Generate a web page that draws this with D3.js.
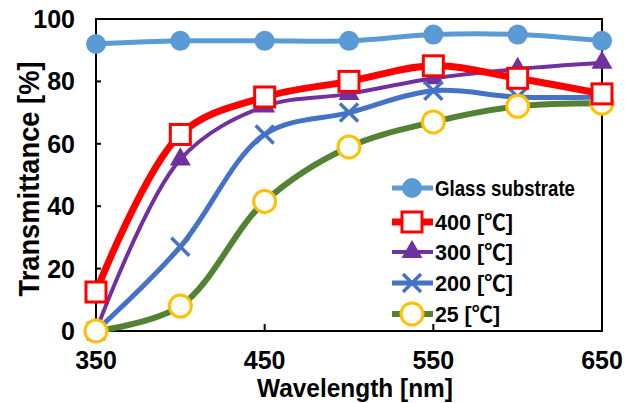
<!DOCTYPE html>
<html>
<head>
<meta charset="utf-8">
<script src="https://cdn.jsdelivr.net/npm/d3@7"></script>
<style>
  body { margin: 0; background: #fff; }
  text { font-family: "Liberation Sans", Arial, "DejaVu Sans", "Noto Sans CJK JP", sans-serif; font-weight: bold; fill: #000; }
  .cjk { font-family: "Noto Sans CJK JP", sans-serif; }
</style>
</head>
<body>
<svg id="chart" width="636" height="403"></svg>
<script>
// data
const wavelengths = [350, 400, 450, 500, 550, 600, 650];
const glassSubstrate = [92, 93, 93, 93, 95, 95, 93];
const temp400 = [12.5, 63, 75, 80, 85, 81, 76];
const temp300 = [0, 55, 72, 76, 81, 84, 86];
const temp200 = [0, 27, 63, 70, 77, 75, 75];
const temp25 = [0, 8, 41.5, 59, 67, 72, 73];
const seriesNames = ["Glass substrate", "400 [℃]", "300 [℃]", "200 [℃]", "25 [℃]"];
const xTicks = [350, 450, 550, 650];
const yTicks = [0, 20, 40, 60, 80, 100];

const svg = d3.select("#chart");
const plotLeft = 96, plotTop = 19, plotRight = 602, plotBottom = 331;

const x = d3.scaleLinear().domain([350, 650]).range([plotLeft, plotRight]);
const y = d3.scaleLinear().domain([0, 100]).range([plotBottom, plotTop]);

const series = [
    { name: seriesNames[0], values: glassSubstrate, color: "#5B9BD5", width: 5, marker: "circle" },
    { name: seriesNames[1], values: temp400, color: "#FF0000", width: 7, marker: "square" },
    { name: seriesNames[2], values: temp300, color: "#7030A0", width: 4, marker: "triangle" },
    { name: seriesNames[3], values: temp200, color: "#4472C4", width: 5, marker: "x" },
    { name: seriesNames[4], values: temp25, color: "#548235", width: 6, marker: "ring" }
];

// frame
svg.append("rect")
    .attr("x", plotLeft).attr("y", plotTop)
    .attr("width", plotRight - plotLeft).attr("height", plotBottom - plotTop)
    .attr("fill", "none").attr("stroke", "#000").attr("stroke-width", 2);

// ticks (inside)
svg.selectAll(".ytick").data(yTicks).enter()
    .append("line").attr("class", "ytick")
    .attr("x1", plotLeft).attr("x2", plotLeft + 5)
    .attr("y1", d => y(d)).attr("y2", d => y(d))
    .attr("stroke", "#000").attr("stroke-width", 2);
svg.selectAll(".xtick").data(xTicks).enter()
    .append("line").attr("class", "xtick")
    .attr("x1", d => x(d)).attr("x2", d => x(d))
    .attr("y1", plotBottom).attr("y2", plotBottom - 7)
    .attr("stroke", "#000").attr("stroke-width", 2);

svg.selectAll(".ylab").data(yTicks).enter()
    .append("text").attr("class", "ylab")
    .attr("x", 75).attr("y", d => y(d)).attr("dy", "0.36em")
    .attr("text-anchor", "end").attr("font-size", 25)
    .text(d => d);
svg.selectAll(".xlab").data(xTicks).enter()
    .append("text").attr("class", "xlab")
    .attr("x", d => x(d)).attr("y", 369)
    .attr("text-anchor", "middle").attr("font-size", 25)
    .text(d => d);

svg.append("text")
    .attr("x", 355).attr("y", 397)
    .attr("text-anchor", "middle").attr("font-size", 25)
    .attr("textLength", 196).attr("lengthAdjust", "spacingAndGlyphs")
    .text("Wavelength [nm]");
svg.append("text")
    .attr("transform", "translate(39,179) rotate(-90)")
    .attr("text-anchor", "middle").attr("font-size", 29)
    .attr("textLength", 235).attr("lengthAdjust", "spacingAndGlyphs")
    .text("Transmittance [%]");

function drawMarker(g, s) {
    if (s.marker === "circle")
        g.append("circle").attr("r", 10).attr("fill", s.color);
    else if (s.marker === "square")
        g.append("rect").attr("x", -10).attr("y", -10).attr("width", 20).attr("height", 20)
            .attr("fill", "#fff").attr("stroke", s.color).attr("stroke-width", 3);
    else if (s.marker === "triangle")
        g.append("path").attr("d", d3.symbol().type(d3.symbolTriangle).size(190)())
            .attr("fill", s.color);
    else if (s.marker === "x")
        g.append("path").attr("d", "M-9,-9L9,9M-9,9L9,-9")
            .attr("stroke", s.color).attr("stroke-width", 3.5).attr("fill", "none");
    else
        g.append("circle").attr("r", 11).attr("fill", "#fff")
            .attr("stroke", "#FFC000").attr("stroke-width", 3);
}

const line = d3.line()
    .x((d, i) => x(wavelengths[i]))
    .y(d => y(d))
    .curve(d3.curveCatmullRom);

// draw order: glass, 300, 200, 25, 400
[0, 2, 3, 4, 1].forEach(function(k) {
    const s = series[k];
    const g = svg.append("g");
    g.append("path")
        .attr("d", line(s.values))
        .attr("fill", "none")
        .attr("stroke", s.color)
        .attr("stroke-width", s.width)
        .attr("stroke-linejoin", "round");
    s.values.forEach(function(v, i) {
        const m = g.append("g").attr("transform", "translate(" + x(wavelengths[i]) + "," + y(v) + ")");
        drawMarker(m, s);
    });
});

// legend
const legendRows = [188, 222, 252, 283, 314];
const legendLen = [140, 78, 78, 78, 65];
series.forEach(function(s, i) {
    const ly = legendRows[i];
    svg.append("line")
        .attr("x1", 392).attr("x2", 433)
        .attr("y1", ly).attr("y2", ly)
        .attr("stroke", s.color).attr("stroke-width", s.width);
    drawMarker(svg.append("g").attr("transform", "translate(412," + ly + ")"), s);
    const t = svg.append("text")
        .attr("x", 435).attr("y", ly).attr("dy", "0.36em")
        .attr("font-size", 22)
        .attr("textLength", legendLen[i]).attr("lengthAdjust", "spacingAndGlyphs");
    // the degree sign looks closer in the CJK font
    s.name.split(/(℃)/).forEach(function(part) {
        if (!part) return;
        t.append("tspan").classed("cjk", part === "℃").text(part);
    });
});
</script>
</body>
</html>
